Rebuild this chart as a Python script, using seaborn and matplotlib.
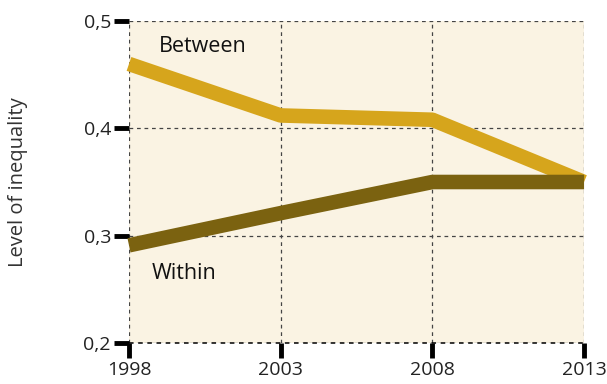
import numpy as np
import pandas as pd
import matplotlib.pyplot as plt
import seaborn as sns

# values
years = [1998, 2003, 2008, 2013]
between = [0.460, 0.412, 0.408, 0.350]
within = [0.291, 0.321, 0.350, 0.350]
yticks = [0.2, 0.3, 0.4, 0.5]
ytick_labels = ["0,2", "0,3", "0,4", "0,5"]

df = pd.DataFrame({"year": years * 2,
                   "value": between + within,
                   "group": ["Between"] * 4 + ["Within"] * 4})

sns.set_style("white")
plt.rcParams['font.family'] = ['Open Sans', 'DejaVu Sans']

fig = plt.figure(figsize=(6.07, 3.84), dpi=100)
ax = fig.add_axes([0.2125, 0.1068, 0.7497, 0.8385])
ax.set_facecolor("#faf3e3")

sns.lineplot(data=df, x="year", y="value", hue="group",
             palette={"Between": "#d6a51c", "Within": "#7b6210"},
             linewidth=10.5, legend=False, ax=ax, clip_on=False,
             solid_capstyle="butt", zorder=3)

ax.set_xlim(1998, 2013)
ax.set_ylim(0.2, 0.5)
ax.set_xticks(years)
ax.set_xticklabels([str(y) for y in years], fontsize=14, color="#222222")
ax.set_yticks(yticks)
ax.set_yticklabels(ytick_labels, fontsize=14, color="#222222")
ax.tick_params(axis="both", bottom=True, left=True, length=11, width=3.5,
               color="black", pad=2)

ax.grid(True, linestyle=(0, (3, 3)), color="#444444", linewidth=0.9)
for s in ax.spines.values():
    s.set_visible(False)
ax.axhline(0.2, color="black", linestyle=(0, (3, 3)), linewidth=1.1,
           zorder=4, clip_on=False)

ax.set_xlabel("")
ax.set_ylabel("Level of inequality", fontsize=14.5, color="#333333", labelpad=40)

ax.text(1999.0, 0.476, "Between", fontsize=15.5, fontweight="medium",
        va="center", color="#111111")
ax.text(1998.75, 0.265, "Within", fontsize=15.5, fontweight="medium",
        va="center", color="#111111")

fig.savefig("out.png", dpi=100)
